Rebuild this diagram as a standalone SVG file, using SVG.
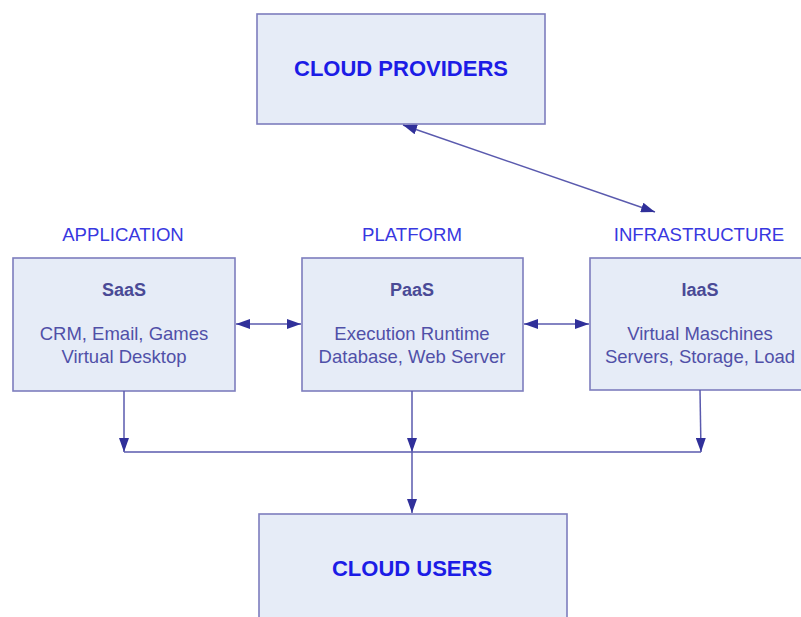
<svg xmlns="http://www.w3.org/2000/svg" width="801" height="617" viewBox="0 0 801 617">
<defs>
<style>
.box{fill:#e6ecf7;stroke:#7d7dbd;stroke-width:1.6}
.big{font-family:"Liberation Sans",Arial,sans-serif;font-size:22px;font-weight:bold;fill:#1c1ce6;text-anchor:middle}
.cat{font-family:"Liberation Sans",Arial,sans-serif;font-size:18.6px;fill:#3838e0;text-anchor:middle}
.ttl{font-family:"Liberation Sans",Arial,sans-serif;font-size:18px;font-weight:bold;fill:#4a4a96;text-anchor:middle}
.txt{font-family:"Liberation Sans",Arial,sans-serif;font-size:18.5px;fill:#5050a8;text-anchor:middle}
.con{fill:none;stroke:#5a5aae;stroke-width:1.5}
</style>
<marker id="ah" viewBox="0 0 14 10" refX="14" refY="5" markerWidth="14" markerHeight="10" markerUnits="userSpaceOnUse" orient="auto-start-reverse">
<path d="M0,0 L14,5 L0,10 Z" fill="#30309a"/>
</marker>
</defs>
<g id="providers">
<rect class="box" x="257" y="14" width="288" height="110"/>
<text class="big" x="401" y="76">CLOUD PROVIDERS</text>
</g>
<g id="saas">
<text class="cat" x="123" y="241">APPLICATION</text>
<rect class="box" x="13" y="258" width="222" height="133"/>
<text class="ttl" x="124" y="296">SaaS</text>
<text class="txt" x="124" y="340">CRM, Email, Games</text>
<text class="txt" x="124" y="363">Virtual Desktop</text>
</g>
<g id="paas">
<text class="cat" x="412" y="241">PLATFORM</text>
<rect class="box" x="302" y="258" width="221" height="133"/>
<text class="ttl" x="412" y="296">PaaS</text>
<text class="txt" x="412" y="340">Execution Runtime</text>
<text class="txt" x="412" y="363">Database, Web Server</text>
</g>
<g id="iaas">
<text class="cat" x="699" y="241">INFRASTRUCTURE</text>
<rect class="box" x="590" y="258" width="222" height="132"/>
<text class="ttl" x="700" y="296">IaaS</text>
<text class="txt" x="700" y="340">Virtual Maschines</text>
<text class="txt" x="700" y="363">Servers, Storage, Load</text>
</g>
<g id="users">
<rect class="box" x="259" y="514" width="308" height="110"/>
<text class="big" x="412" y="576">CLOUD USERS</text>
</g>
<g id="connectors">
<line class="con" x1="403" y1="125" x2="655" y2="212" marker-start="url(#ah)" marker-end="url(#ah)"/>
<line class="con" x1="236" y1="324" x2="301" y2="324" marker-start="url(#ah)" marker-end="url(#ah)"/>
<line class="con" x1="524" y1="324" x2="589" y2="324" marker-start="url(#ah)" marker-end="url(#ah)"/>
<line class="con" x1="124" y1="391" x2="124" y2="452" marker-end="url(#ah)"/>
<line class="con" x1="412" y1="391" x2="412" y2="452" marker-end="url(#ah)"/>
<line class="con" x1="700" y1="390" x2="701" y2="452" marker-end="url(#ah)"/>
<line class="con" x1="124" y1="452" x2="701" y2="452"/>
<line class="con" x1="412" y1="452" x2="412" y2="513" marker-end="url(#ah)"/>
</g>
</svg>
